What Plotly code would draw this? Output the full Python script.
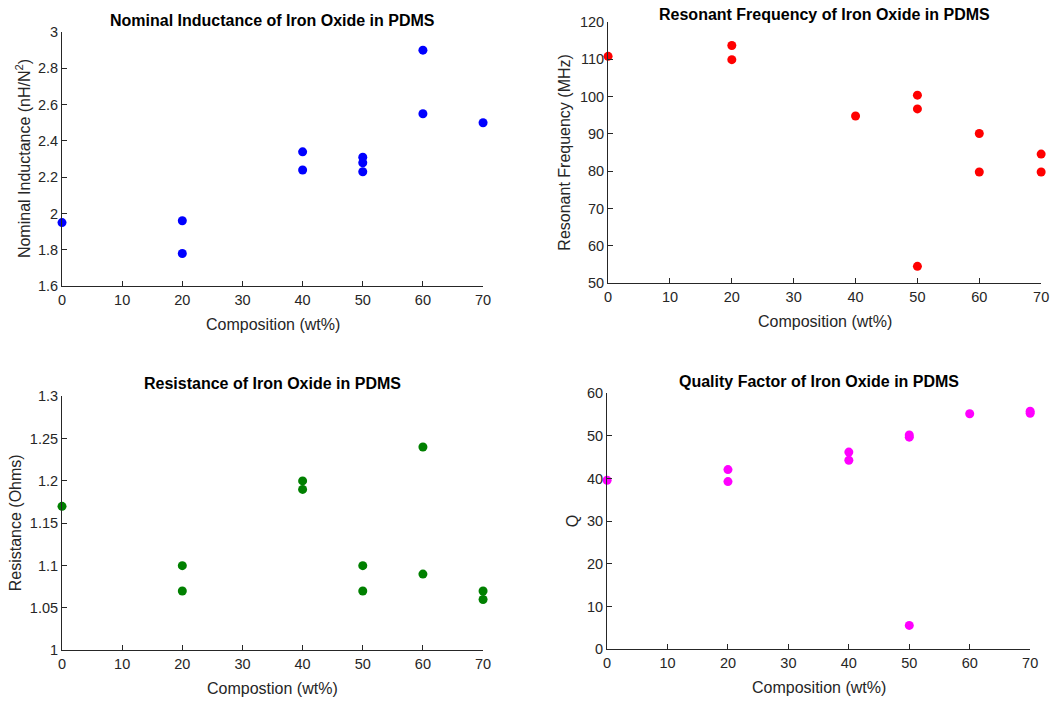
import plotly.graph_objects as go

# Data
comp_L = [0, 20, 20, 40, 40, 50, 50, 50, 60, 60, 70]
inductance = [1.95, 1.96, 1.78, 2.34, 2.24, 2.31, 2.28, 2.23, 2.90, 2.55, 2.50]

comp_F = [0, 20, 20, 40, 50, 50, 50, 60, 60, 70, 70]
frequency = [110.8, 113.7, 109.9, 94.8, 100.4, 96.7, 54.5, 90.1, 79.8, 84.6, 79.8]

comp_R = [0, 20, 20, 40, 40, 50, 50, 60, 60, 70, 70]
resistance = [1.17, 1.10, 1.07, 1.20, 1.19, 1.10, 1.07, 1.24, 1.09, 1.07, 1.06]

comp_Q = [0, 20, 20, 40, 40, 50, 50, 50, 60, 70, 70]
quality = [39.6, 42.1, 39.3, 46.2, 44.3, 50.2, 49.7, 5.6, 55.2, 55.8, 55.3]

x_ticks = [0, 10, 20, 30, 40, 50, 60, 70]

titles = ["Nominal Inductance of Iron Oxide in PDMS",
          "Resonant Frequency of Iron Oxide in PDMS",
          "Resistance of Iron Oxide in PDMS",
          "Quality Factor of Iron Oxide in PDMS"]
xlabels = ["Composition (wt%)", "Composition (wt%)", "Compostion (wt%)", "Composition (wt%)"]
ylabels = ["Nominal Inductance (nH/N<sup>2</sup>)", "Resonant Frequency (MHz)",
           "Resistance (Ohms)", "Q"]

# Figure size (a little larger than the window; the photographed area is slightly wider)
W, H = 1066, 712


def fx(px):
    return (px - 4) / 0.9886


def fy(py):
    return (py - 8) / 0.977


# target picture boxes: left, right, top, bottom
boxes = [(62, 483, 32, 286), (608, 1041, 22, 283), (62, 483, 396, 650), (607, 1030, 393, 649)]
title_y = [20, 14, 383, 381]
ylabel_x = [23, 564, 15, 572]
yranges = [[1.6, 3.0], [50, 120], [1.0, 1.3], [0, 60]]
ydticks = [0.2, 10, 0.05, 10]
colors = ["#0000FF", "#FF0000", "#008000", "#FF00FF"]
series = [(comp_L, inductance), (comp_F, frequency), (comp_R, resistance), (comp_Q, quality)]

AX = "#262626"
FONT = "Liberation Sans, Arial, sans-serif"

fig = go.Figure()
annotations = []
for i in range(4):
    l, r, t, b = boxes[i]
    L, R, T, B = fx(l), fx(r), fy(t), fy(b)
    sfx = "" if i == 0 else str(i + 1)
    xs, ys = series[i]
    fig.add_trace(go.Scatter(x=xs, y=ys, mode="markers",
                             marker=dict(color=colors[i], size=9, line=dict(width=0)),
                             xaxis="x" + sfx, yaxis="y" + sfx, cliponaxis=False,
                             showlegend=False))
    common = dict(showgrid=False, zeroline=False, showline=True, linecolor=AX, linewidth=1,
                  ticks="inside", ticklen=5, tickcolor=AX, tickwidth=1,
                  tickfont=dict(family=FONT, size=14.5, color=AX), mirror=False)
    fig.update_layout(**{
        "xaxis" + sfx: dict(domain=[L / W, R / W], range=[0, 70], tickvals=x_ticks,
                            anchor="y" + sfx, **common),
        "yaxis" + sfx: dict(domain=[1 - B / H, 1 - T / H], range=yranges[i],
                            dtick=ydticks[i], tick0=0, anchor="x" + sfx, **common),
    })
    cx = (L + R) / 2 / W
    annotations.append(dict(text="<b>" + titles[i] + "</b>", x=cx, y=1 - fy(title_y[i]) / H,
                            xref="paper", yref="paper", showarrow=False,
                            xanchor="center", yanchor="middle",
                            font=dict(family=FONT, size=16, color="#000000")))
    annotations.append(dict(text=xlabels[i], x=cx, y=1 - fy(b + 38) / H,
                            xref="paper", yref="paper", showarrow=False,
                            xanchor="center", yanchor="middle",
                            font=dict(family=FONT, size=16, color=AX)))
    annotations.append(dict(text=ylabels[i], x=fx(ylabel_x[i]) / W, y=1 - (T + B) / 2 / H,
                            xref="paper", yref="paper", showarrow=False, textangle=-90,
                            xanchor="center", yanchor="middle",
                            font=dict(family=FONT, size=16, color=AX)))

fig.update_layout(width=W, height=H, margin=dict(l=0, r=0, t=0, b=0),
                  paper_bgcolor="white", plot_bgcolor="white",
                  annotations=annotations, showlegend=False)

fig.write_html("out.html", config={"displayModeBar": False},
               post_script="document.body.style.margin='0';document.documentElement.style.margin='0';document.body.style.overflow='hidden';")
